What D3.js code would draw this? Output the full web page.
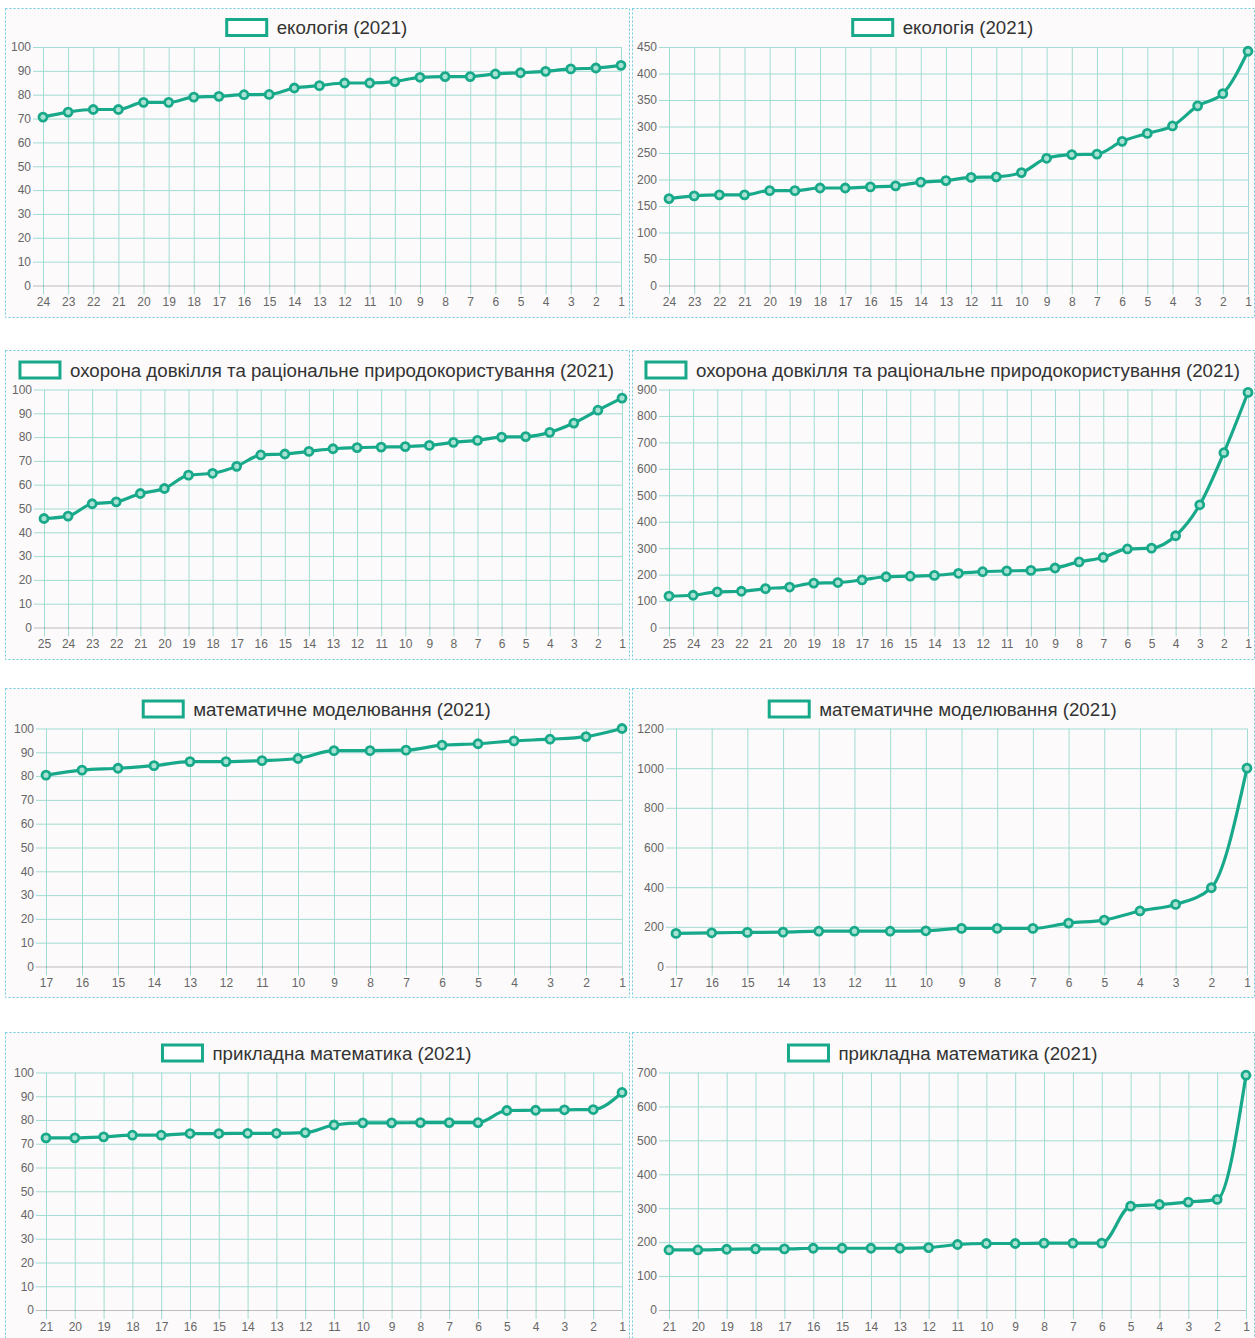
<!DOCTYPE html>
<html>
<head>
<meta charset="utf-8">
<script src="https://cdn.jsdelivr.net/npm/d3@7"></script>
<style>
  html, body { margin: 0; padding: 0; background: #ffffff; }
  svg { display: block; font-family: "Liberation Sans", Arial, Helvetica, sans-serif; }
</style>
</head>
<body>
<script>
// ---------------- DATA ----------------
const titleEcology = "екологія (2021)";
const titleEnv = "охорона довкілля та раціональне природокористування (2021)";
const titleModel = "математичне моделювання (2021)";
const titleApplied = "прикладна математика (2021)";

const labels24 = ["24","23","22","21","20","19","18","17","16","15","14","13","12","11","10","9","8","7","6","5","4","3","2","1"];
const labels25 = ["25","24","23","22","21","20","19","18","17","16","15","14","13","12","11","10","9","8","7","6","5","4","3","2","1"];
const labels17 = ["17","16","15","14","13","12","11","10","9","8","7","6","5","4","3","2","1"];
const labels21 = ["21","20","19","18","17","16","15","14","13","12","11","10","9","8","7","6","5","4","3","2","1"];

const ecologyLeft  = [70.6,72.7,73.8,73.8,76.8,76.8,79.0,79.3,80.0,80.1,82.8,83.8,84.9,84.9,85.5,87.3,87.6,87.6,88.7,89.2,89.8,90.8,91.2,92.3];
const ecologyRight = [164,169,171,171,179,179,184,184,186,188,195,198,204,205,213,240,247,248,272,287,301,339,362,442];

const envLeft  = [45.8,46.8,52.0,52.8,56.3,58.4,64.0,64.8,67.7,72.5,72.9,74.0,75.1,75.6,75.8,76.0,76.5,77.8,78.6,80.0,80.2,82.0,85.9,91.3,96.4];
const envRight = [119,122,135,137,147,153,168,170,180,192,194,197,205,211,214,216,225,248,265,297,300,347,464,661,889];

const modelLeft  = [80.4,82.5,83.3,84.4,86.1,86.1,86.5,87.4,90.7,90.7,90.9,93.0,93.6,94.8,95.5,96.6,100];
const modelRight = [167,170,172,173,178,178,178,180,192,192,192,219,234,280,313,397,1000];

const appliedLeft  = [72.5,72.5,72.9,73.6,73.6,74.3,74.3,74.4,74.4,74.7,77.9,78.8,78.8,78.9,78.9,78.9,84.0,84.1,84.3,84.4,91.6];
const appliedRight = [177,177,179,180,180,182,182,182,182,184,193,196,196,197,197,197,306,311,318,326,692];

const ticks100  = [0,10,20,30,40,50,60,70,80,90,100];
const ticks450  = [0,50,100,150,200,250,300,350,400,450];
const ticks900  = [0,100,200,300,400,500,600,700,800,900];
const ticks1200 = [0,200,400,600,800,1000,1200];
const ticks700  = [0,100,200,300,400,500,600,700];

// ---------------- LAYOUT ----------------
const panels = [
  {title: titleEcology, labels: labels24, values: ecologyLeft,  ticks: ticks100,  box: [5,8,629,317],     plot: {l:43,  r:621,  t:47,   b:285.5}, ty: 27.5},
  {title: titleEcology, labels: labels24, values: ecologyRight, ticks: ticks450,  box: [632,8,1254,317],  plot: {l:669, r:1248, t:47,   b:285.5}, ty: 27.5},
  {title: titleEnv,     labels: labels25, values: envLeft,      ticks: ticks100,  box: [5,350,629,659],   plot: {l:44,  r:622,  t:389.5,b:627.5}, ty: 370},
  {title: titleEnv,     labels: labels25, values: envRight,     ticks: ticks900,  box: [632,350,1254,659],plot: {l:669, r:1248, t:389.5,b:627.5}, ty: 370},
  {title: titleModel,   labels: labels17, values: modelLeft,    ticks: ticks100,  box: [5,688,629,997],   plot: {l:46,  r:622,  t:728.5,b:966.5}, ty: 709},
  {title: titleModel,   labels: labels17, values: modelRight,   ticks: ticks1200, box: [632,688,1254,997],plot: {l:676, r:1247, t:728.5,b:966.5}, ty: 709},
  {title: titleApplied, labels: labels21, values: appliedLeft,  ticks: ticks100,  box: [5,1032,629,1345], plot: {l:46,  r:622,  t:1072.5,b:1310}, ty: 1053},
  {title: titleApplied, labels: labels21, values: appliedRight, ticks: ticks700,  box: [632,1032,1254,1345],plot:{l:669, r:1246, t:1072.5,b:1310}, ty: 1053}
];

const LINE = "#18a98a";
const GRID = "#a2dcd2";
const ZERO = "rgba(0,0,0,0.25)";
const TICKTXT = "#666666";

const svg = d3.select("body").append("svg")
  .attr("width", 1255).attr("height", 1338);

panels.forEach(p => {
  const g = svg.append("g");
  const [bx0, by0, bx1, by1] = p.box;

  g.append("rect")
    .attr("x", bx0 + 0.5).attr("y", by0 + 0.5)
    .attr("width", bx1 - bx0).attr("height", by1 - by0)
    .attr("fill", "#fcfafb")
    .attr("stroke", "#6ccbdd")
    .attr("stroke-width", 1)
    .attr("stroke-dasharray", "2,2");

  const x = d3.scalePoint().domain(p.labels).range([p.plot.l, p.plot.r]);
  const y = d3.scaleLinear().domain([0, d3.max(p.ticks)]).range([p.plot.b, p.plot.t]);
  const w = p.plot.r - p.plot.l, h = p.plot.b - p.plot.t;

  // vertical grid + x labels
  const xg = g.append("g").attr("transform", `translate(0,${p.plot.b})`)
    .call(d3.axisBottom(x).tickSize(-h).tickPadding(12));
  xg.select(".domain").remove();
  xg.selectAll(".tick line").attr("y1", 9).attr("stroke", GRID).attr("stroke-width", 1);
  xg.selectAll(".tick text").attr("fill", TICKTXT).style("font-size", "12px")
    .style("font-family", '"Liberation Sans", Arial, sans-serif');

  // horizontal grid + y labels
  const yg = g.append("g").attr("transform", `translate(${p.plot.l},0)`)
    .call(d3.axisLeft(y).tickValues(p.ticks).tickSize(-w).tickPadding(12).tickFormat(d3.format("d")));
  yg.select(".domain").remove();
  yg.selectAll(".tick line").attr("x1", -10)
    .attr("stroke", d => d === 0 ? ZERO : GRID).attr("stroke-width", 1);
  yg.selectAll(".tick text").attr("fill", TICKTXT).style("font-size", "12px")
    .style("font-family", '"Liberation Sans", Arial, sans-serif');
  yg.selectAll(".tick").filter(d => d === 0).raise();

  // line
  const line = d3.line()
    .x((d, i) => x(p.labels[i]))
    .y(d => y(d))
    .curve(d3.curveMonotoneX);
  g.append("path")
    .datum(p.values)
    .attr("d", line)
    .attr("fill", "none")
    .attr("stroke", LINE)
    .attr("stroke-width", 3.2)
    .attr("stroke-linejoin", "round");

  // points
  g.selectAll("circle.pt").data(p.values).join("circle")
    .attr("class", "pt")
    .attr("cx", (d, i) => x(p.labels[i]))
    .attr("cy", d => y(d))
    .attr("r", 4)
    .attr("fill", "#a9e2d3")
    .attr("stroke", LINE)
    .attr("stroke-width", 2.8);

  // legend/title
  const cx = (bx0 + bx1) / 2;
  const lg = g.append("g");
  const txt = lg.append("text")
    .attr("y", p.ty)
    .attr("dominant-baseline", "central")
    .attr("fill", "#333")
    .style("font-size", "18.7px")
    .text(p.title);
  const tw = txt.node().getComputedTextLength();
  const total = 40 + 10 + tw;
  const lx = cx - total / 2;
  txt.attr("x", lx + 50);
  lg.append("rect")
    .attr("x", lx).attr("y", p.ty - 8)
    .attr("width", 40).attr("height", 16)
    .attr("fill", "#ffffff")
    .attr("stroke", LINE)
    .attr("stroke-width", 3);
});
</script>
</body>
</html>
